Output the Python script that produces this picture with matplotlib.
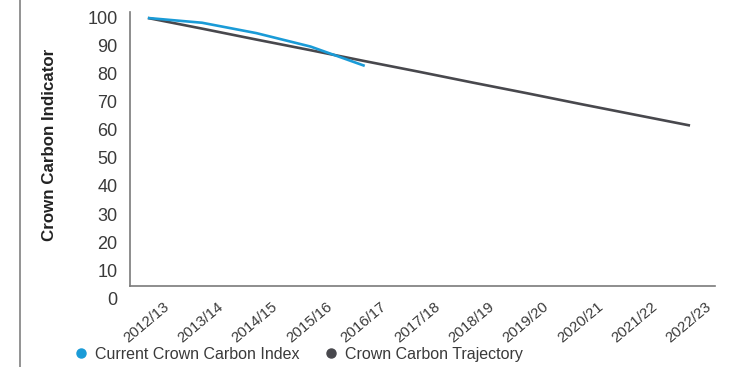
import matplotlib.pyplot as plt
import matplotlib.transforms as mtransforms
from matplotlib.lines import Line2D

years = ['2012/13', '2013/14', '2014/15', '2015/16', '2016/17', '2017/18',
         '2018/19', '2019/20', '2020/21', '2021/22', '2022/23']
current_index = [100, 98.3, 94.6, 89.8, 82.9]
trajectory = [100, 96.2, 92.3, 88.5, 84.6, 80.8, 76.9, 73.1, 69.2, 65.4, 61.6]

blue = '#1a9bd7'
grey = '#48484d'
text_col = '#3a3a3a'
axis_col = '#7a7a7a'


def main():
    plt.rcParams['font.family'] = ['Liberation Sans', 'DejaVu Sans']
    fig = plt.figure(figsize=(7.41, 3.67), dpi=100)
    ax = fig.add_axes([0.1754, 0.188, 0.7895, 0.779])

    x = list(range(len(years)))
    ax.plot(x, trajectory, color=grey, lw=1.9, solid_capstyle='butt')
    ax.plot(x[:len(current_index)], current_index, color=blue, lw=1.9,
            solid_capstyle='butt')

    ax.set_xlim(-0.33, 10.46)
    ax.set_ylim(0, 102.1)
    ax.set_yticks(range(0, 101, 10))
    ax.set_xticks(x)

    # x-axis line sits a little above zero in the original
    base = 4.3
    ax.axhline(base, color=axis_col, lw=1.2, xmin=0, xmax=1, clip_on=False)
    for s in ['top', 'right', 'bottom']:
        ax.spines[s].set_visible(False)
    ax.spines['left'].set_color(axis_col)
    ax.spines['left'].set_linewidth(1.2)
    ax.spines['left'].set_bounds(base, 102.1)

    ax.tick_params(axis='y', length=0, pad=9, labelsize=13, labelcolor=text_col)
    ax.tick_params(axis='x', length=0, pad=1, labelsize=10.8, labelcolor=text_col)

    ax.set_xticklabels(years, rotation=40, ha='right', va='top',
                       rotation_mode='anchor')
    shift = mtransforms.ScaledTranslation(15 / 100, 0, fig.dpi_scale_trans)
    for lab in ax.get_xticklabels():
        lab.set_transform(lab.get_transform() + shift)

    ax.set_ylabel('Crown Carbon Indicator', fontsize=12.2, fontweight='bold',
                  color='#222222')
    ax.yaxis.set_label_coords(-0.125, 0.535)

    handles = [
        Line2D([], [], marker='o', ls='none', color=blue, markersize=6.5),
        Line2D([], [], marker='o', ls='none', color=grey, markersize=6.5),
    ]
    fig.legend(handles, ['Current Crown Carbon Index', 'Crown Carbon Trajectory'],
               loc='center left', bbox_to_anchor=(0.09, 0.035), ncol=2,
               frameon=False, fontsize=11.5, handletextpad=0.35, columnspacing=1.5,
               labelcolor=text_col, borderaxespad=0, handlelength=1.0)

    fig.add_artist(Line2D([20 / 741, 20 / 741], [0, 1], color='#8a8a8a', lw=1.3,
                          transform=fig.transFigure))

    fig.savefig('out.png', dpi=100)


if __name__ == "__main__":
    main()
